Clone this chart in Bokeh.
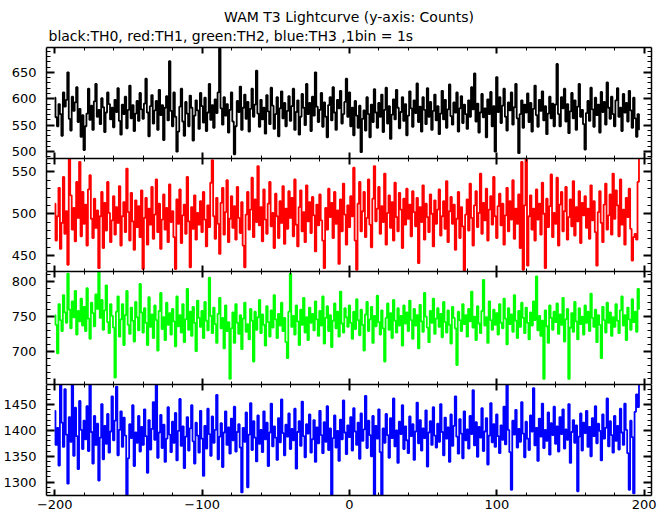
from bokeh.plotting import figure
from bokeh.layouts import column
from bokeh.models import Range1d, LinearAxis, FixedTicker, Title
from bokeh.embed import file_html
from bokeh.resources import INLINE

# ---------------- data (counts per 1 s bin) ----------------
bin_start_s = -200

th0_counts = [
    602, 565, 548, 590, 571, 530, 612, 585, 598, 650, 562, 540, 604, 577, 593, 622, 556, 581, 528, 569,
    503, 548, 572, 619, 560, 587, 541, 595, 628, 566, 579, 552, 601, 584, 537, 574, 612, 590, 561, 583,
    546, 598, 575, 620, 558, 532, 589, 571, 604, 544, 579, 625, 563, 588, 539, 572, 596, 558, 611, 580,
    562, 591, 638, 574, 529, 586, 607, 553, 578, 596, 541, 617, 569, 588, 522, 583, 605, 559, 671, 577,
    548, 612, 566, 500, 538, 585, 619, 557, 530, 594, 572, 548, 606, 583, 521, 568, 597, 578, 543, 611,
    586, 555, 602, 539, 574, 628, 560, 588, 545, 599, 573, 612, 695, 582, 551, 603, 568, 590, 536, 579,
    612, 557, 495, 548, 596, 575, 623, 541, 583, 608, 562, 594, 538, 581, 619, 566, 589, 653, 572, 547,
    598, 561, 583, 534, 607, 576, 552, 621, 587, 543, 571, 603, 529, 582, 614, 563, 592, 548, 577, 605,
    558, 586, 619, 541, 575, 597, 532, 566, 609, 583, 550, 628, 571, 592, 539, 604, 568, 650, 585, 556,
    579, 611, 547, 593, 566, 527, 588, 603, 559, 622, 574, 541, 598, 582, 615, 553, 571, 594, 638, 566,
    612, 548, 583, 531, 596, 568, 545, 587, 499, 562, 578, 540, 603, 571, 527, 589, 556, 618, 574, 545,
    592, 566, 608, 537, 579, 621, 553, 586, 524, 570, 599, 561, 617, 583, 544, 575, 603, 558, 590, 531,
    568, 614, 582, 547, 597, 573, 629, 556, 585, 538, 603, 579, 552, 620, 566, 594, 541, 577, 608, 559,
    586, 533, 572, 615, 561, 598, 545, 580, 627, 567, 551, 593, 574, 612, 538, 582, 605, 554, 589, 571,
    543, 597, 566, 622, 580, 648, 557, 591, 536, 574, 609, 565, 582, 527, 599, 571, 613, 548, 586, 500,
    641, 575, 603, 554, 587, 619, 566, 540, 593, 578, 612, 551, 584, 628, 563, 497, 571, 597, 545, 589,
    574, 610, 556, 592, 538, 581, 625, 569, 547, 598, 577, 614, 559, 586, 533, 572, 604, 563, 591, 548,
    589, 666, 571, 548, 603, 582, 619, 557, 590, 535, 576, 611, 563, 597, 541, 585, 628, 566, 579, 552,
    504, 573, 596, 558, 621, 580, 547, 602, 569, 589, 536, 613, 575, 594, 551, 631, 583, 562, 604, 571,
    548, 597, 620, 566, 583, 539, 609, 574, 592, 557, 615, 578, 545, 602, 563, 528, 571, 542,
]

th1_counts = [
    512, 468, 497, 531, 458, 489, 544, 476, 503, 439, 566, 522, 481, 507, 467, 538, 495, 562, 473, 526,
    488, 511, 462, 529, 546, 494, 471, 518, 483, 504, 435, 497, 526, 459, 513, 480, 538, 501, 466, 492,
    521, 475, 508, 489, 533, 462, 497, 514, 478, 554, 502, 468, 525, 491, 457, 516, 484, 509, 472, 528,
    434, 495, 519, 463, 506, 487, 532, 470, 499, 541, 478, 512, 458, 493, 523, 481, 507, 466, 535, 490,
    503, 472, 434, 517, 488, 529, 465, 498, 511, 476, 544, 491, 436, 508, 482, 522, 469, 501, 487, 515,
    478, 526, 493, 461, 510, 484, 537, 564, 497, 470, 519, 488, 452, 513, 531, 475, 502, 540, 466, 494,
    521, 483, 509, 469, 532, 495, 477, 514, 462, 436, 499, 526, 481, 505, 543, 472, 517, 490, 557, 486,
    508, 467, 529, 493, 476, 512, 538, 485, 501, 459, 524, 497, 471, 515, 489, 533, 464, 506, 482, 527,
    495, 519, 473, 541, 487, 461, 508, 528, 479, 502, 466, 534, 491, 514, 477, 520, 498, 455, 511, 486,
    523, 492, 468, 435, 507, 481, 530, 496, 513, 471, 526, 488, 504, 440, 517, 479, 536, 499, 463, 510,
    484, 521, 497, 555, 468, 433, 512, 538, 479, 503, 526, 472, 495, 541, 487, 460, 518, 557, 491, 506,
    532, 476, 509, 490, 548, 463, 501, 522, 483, 514, 468, 537, 496, 479, 525, 505, 459, 518, 487, 530,
    494, 511, 473, 527, 502, 485, 519, 441, 508, 490, 534, 469, 512, 496, 478, 523, 500, 461, 516, 488,
    505, 529, 474, 497, 515, 482, 539, 466, 503, 520, 488, 511, 457, 494, 526, 471, 508, 485, 432, 499,
    517, 480, 536, 495, 462, 510, 527, 484, 501, 548, 476, 513, 492, 530, 468, 505, 521, 487, 544, 497,
    471, 509, 524, 486, 512, 463, 498, 531, 479, 515, 493, 540, 470, 506, 488, 523, 459, 562, 433, 510,
    565, 438, 497, 522, 481, 506, 468, 529, 493, 512, 475, 537, 500, 435, 518, 484, 509, 547, 472, 501,
    488, 543, 462, 511, 526, 479, 503, 532, 469, 496, 517, 485, 539, 474, 508, 491, 527, 465, 513, 498,
    521, 483, 506, 470, 534, 492, 515, 478, 438, 502, 527, 489, 466, 511, 536, 481, 498, 523, 475, 548,
    494, 528, 510, 473, 541, 487, 505, 463, 519, 496, 530, 482, 444, 472, 476, 469, 538, 566,
]

th2_counts = [
    752, 738, 697, 768, 745, 729, 781, 756, 741, 812, 760, 733, 772, 749, 787, 724, 758, 743, 776, 737,
    764, 729, 791, 747, 718, 770, 755, 736, 782, 761, 815, 748, 774, 731, 759, 795, 742, 726, 768, 751,
    734, 662, 757, 779, 721, 746, 768, 709, 752, 787, 738, 725, 763, 744, 714, 771, 749, 730, 797, 756,
    727, 762, 741, 709, 778, 735, 753, 719, 766, 745, 701, 758, 784, 732, 749, 716, 770, 738, 755, 724,
    761, 743, 707, 779, 736, 752, 727, 768, 713, 746, 790, 731, 757, 722, 764, 741, 700, 773, 748, 735,
    758, 719, 771, 744, 730, 806, 751, 726, 763, 739, 712, 754, 777, 733, 748, 704, 766, 729, 742, 660,
    733, 756, 712, 768, 741, 725, 752, 703, 747, 770, 728, 739, 717, 761, 744, 685, 757, 731, 749, 774,
    726, 753, 738, 708, 765, 742, 721, 759, 734, 781, 746, 719, 754, 737, 770, 729, 748, 713, 690, 757,
    812, 735, 751, 724, 766, 743, 709, 760, 738, 777, 727, 749, 716, 763, 741, 754, 730, 772, 746, 722,
    758, 737, 779, 711, 748, 765, 729, 752, 706, 744, 769, 733, 757, 721, 786, 740, 727, 762, 749, 735,
    766, 741, 718, 757, 732, 775, 745, 723, 760, 738, 701, 753, 771, 729, 746, 764, 712, 751, 736, 780,
    742, 724, 759, 733, 685, 748, 769, 731, 755, 719, 774, 744, 727, 762, 737, 751, 708, 766, 740, 756,
    729, 773, 745, 718, 761, 737, 752, 704, 767, 743, 728, 784, 750, 734, 713, 758, 741, 776, 725, 747,
    762, 735, 754, 720, 771, 742, 727, 759, 738, 711, 764, 748, 733, 680, 757, 745, 729, 768, 739, 752,
    721, 761, 743, 786, 734, 750, 716, 765, 740, 726, 758, 803, 737, 749, 712, 772, 745, 731, 760, 738,
    755, 724, 768, 741, 733, 776, 747, 710, 762, 739, 753, 728, 781, 744, 719, 758, 735, 770, 748, 726,
    763, 741, 717, 756, 737, 772, 745, 808, 730, 751, 722, 744, 660, 759, 736, 712, 766, 748, 731, 757,
    742, 769, 725, 753, 738, 777, 714, 746, 761, 660, 734, 755, 728, 771, 743, 717, 762, 739, 750, 724,
    766, 741, 757, 729, 783, 748, 735, 760, 713, 752, 738, 690, 764, 745, 727, 770, 741, 756, 722, 749,
    735, 768, 744, 726, 759, 779, 737, 752, 716, 763, 746, 731, 775, 742, 757, 728, 790, 761,
]

th3_counts = [
    1438, 1372, 1405, 1332, 1489, 1415, 1368, 1480, 1392, 1297, 1426, 1378, 1489, 1351, 1444, 1389, 1325, 1457, 1401, 1364,
    1419, 1383, 1447, 1360, 1489, 1397, 1336, 1428, 1372, 1413, 1303, 1386, 1451, 1344, 1409, 1374, 1432, 1357, 1398, 1466,
    1381, 1419, 1485, 1352, 1401, 1437, 1368, 1425, 1390, 1275, 1346, 1412, 1385, 1449, 1331, 1396, 1376, 1428, 1359, 1407,
    1372, 1441, 1389, 1318, 1420, 1363, 1403, 1455, 1382, 1489, 1347, 1396, 1430, 1366, 1411, 1339, 1384, 1445, 1392, 1358,
    1417, 1376, 1434, 1342, 1399, 1461, 1370, 1408, 1327, 1388, 1426, 1361, 1404, 1449, 1379, 1336, 1415, 1390, 1357, 1438,
    1384, 1312, 1409, 1365, 1442, 1393, 1351, 1427, 1376, 1401, 1469, 1344, 1388, 1414, 1329, 1396, 1437, 1372, 1406, 1355,
    1423, 1381, 1446, 1359, 1397, 1412, 1367, 1280, 1405, 1378, 1435, 1290, 1392, 1453, 1362, 1418, 1386, 1340, 1429, 1374,
    1401, 1358, 1437, 1383, 1415, 1331, 1396, 1452, 1369, 1408, 1386, 1343, 1424, 1377, 1460, 1395, 1352, 1411, 1388, 1433,
    1364, 1403, 1381, 1442, 1326, 1397, 1418, 1370, 1456, 1389, 1348, 1412, 1394, 1431, 1357, 1383, 1420, 1339, 1406, 1375,
    1438, 1391, 1356, 1416, 1378, 1447, 1362, 1404, 1272, 1385, 1429, 1367, 1399, 1341, 1421, 1383, 1458, 1396, 1354, 1410,
    1387, 1426, 1361, 1443, 1398, 1372, 1415, 1345, 1433, 1380, 1402, 1467, 1366, 1419, 1391, 1350, 1428, 1272, 1409, 1384,
    1441, 1358, 1275, 1404, 1376, 1432, 1391, 1347, 1424, 1385, 1462, 1369, 1400, 1337, 1417, 1393, 1449, 1364, 1408, 1381,
    1356, 1427, 1389, 1412, 1343, 1398, 1454, 1375, 1420, 1361, 1404, 1385, 1439, 1330, 1396, 1418, 1372, 1445, 1390, 1367,
    1413, 1378, 1451, 1397, 1352, 1425, 1384, 1406, 1339, 1431, 1370, 1409, 1466, 1388, 1355, 1422, 1394, 1346, 1437, 1381,
    1402, 1365, 1428, 1393, 1478, 1371, 1416, 1349, 1407, 1386, 1443, 1360, 1398, 1424, 1334, 1390, 1453, 1377, 1412, 1368,
    1431, 1389, 1356, 1410, 1382, 1446, 1373, 1489, 1401, 1358, 1285, 1419, 1392, 1440, 1367, 1403, 1378, 1455, 1394, 1348,
    1417, 1384, 1362, 1429, 1398, 1482, 1371, 1405, 1341, 1423, 1388, 1452, 1366, 1401, 1380, 1435, 1353, 1414, 1391, 1446,
    1374, 1408, 1359, 1426, 1393, 1441, 1365, 1402, 1382, 1451, 1337, 1397, 1420, 1376, 1410, 1282, 1388, 1433, 1361, 1415,
    1395, 1438, 1368, 1407, 1350, 1424, 1389, 1447, 1375, 1413, 1399, 1342, 1431, 1384, 1405, 1462, 1369, 1418, 1391, 1357,
    1428, 1380, 1409, 1363, 1442, 1396, 1372, 1452, 1401, 1356, 1285, 1419, 1387, 1278, 1436, 1470, 1445, 1489,
]

series_counts = [th0_counts, th1_counts, th2_counts, th3_counts]
series_colors = ["#000000", "#ff0000", "#00ff00", "#0000ff"]

x_major_ticks = [-200, -100, 0, 100, 200]
x_tick_labels = ["\u2212200", "\u2212100", "0", "100", "200"]
x_minor_ticks = list(range(-200, 201, 20))

y_limits = [(487, 697), (431, 566), (652, 815), (1274, 1489)]
y_major_ticks = [
    [500, 550, 600, 650],
    [450, 500, 550],
    [700, 750, 800],
    [1300, 1350, 1400, 1450],
]
y_minor_ticks = [
    list(range(490, 700, 10)),
    list(range(440, 566, 10)),
    list(range(660, 815, 10)),
    list(range(1280, 1490, 10)),
]

title_text = "WAM T3 Lightcurve (y-axis: Counts)"
subtitle_text = "black:TH0, red:TH1, green:TH2, blue:TH3 ,1bin = 1s"

# ---------------- styling ----------------
FONT = "DejaVu Sans"
FRAME_W = 605
FRAME_H = [111, 113, 113, 111]
X_RANGE = (-205.6, 205.0)
BORDER_L, BORDER_R = 45, 18
BORDER_TOP, BORDER_BOTTOM = 47, 19


def style_axis(ax, tick_in, minor_in, show_labels):
    ax.major_tick_in = tick_in
    ax.major_tick_out = 0
    ax.minor_tick_in = minor_in
    ax.minor_tick_out = 0
    ax.axis_line_color = "black"
    ax.axis_line_width = 1.5
    ax.major_tick_line_color = "black"
    ax.major_tick_line_width = 2
    ax.minor_tick_line_color = "black"
    ax.minor_tick_line_width = 1
    if show_labels:
        ax.major_label_text_font = FONT
        ax.major_label_text_font_size = "13px"
        ax.major_label_text_color = "black"
    else:
        ax.major_label_text_font_size = "0px"
        ax.major_label_text_color = None
        ax.major_label_standoff = 0


figs = []
n = len(series_counts)
for i in range(n):
    counts = series_counts[i]
    times = [bin_start_s + k for k in range(len(counts))]
    p = figure(
        frame_width=FRAME_W,
        frame_height=FRAME_H[i],
        x_range=Range1d(*X_RANGE),
        y_range=Range1d(*y_limits[i]),
        x_axis_location=None,
        y_axis_location=None,
        output_backend="svg",
        toolbar_location=None,
        min_border_left=BORDER_L,
        min_border_right=BORDER_R,
        min_border_top=BORDER_TOP if i == 0 else 0,
        min_border_bottom=BORDER_BOTTOM if i == n - 1 else 0,
        background_fill_color="white",
        border_fill_color="white",
    )
    p.outline_line_color = None
    p.grid.visible = False

    # left (labelled) and right y axes
    yl = LinearAxis(ticker=FixedTicker(ticks=y_major_ticks[i], minor_ticks=y_minor_ticks[i]))
    style_axis(yl, 8, 4, True)
    yl.major_label_standoff = 10
    p.add_layout(yl, "left")
    yr = LinearAxis(ticker=FixedTicker(ticks=y_major_ticks[i], minor_ticks=y_minor_ticks[i]))
    style_axis(yr, 8, 4, False)
    p.add_layout(yr, "right")

    # top and bottom x axes
    xt = LinearAxis(ticker=FixedTicker(ticks=x_major_ticks, minor_ticks=x_minor_ticks))
    style_axis(xt, 6, 3, False)
    p.add_layout(xt, "above")
    xb = LinearAxis(ticker=FixedTicker(ticks=x_major_ticks, minor_ticks=x_minor_ticks))
    last = (i == n - 1)
    style_axis(xb, 6, 3, last)
    if last:
        xb.major_label_standoff = 4
        xb.major_label_overrides = {t: lab for t, lab in zip(x_major_ticks, x_tick_labels)}
    p.add_layout(xb, "below")

    p.step(times, counts, mode="center", line_color=series_colors[i], line_width=1.8)

    if i == 0:
        p.add_layout(Title(text=subtitle_text, align="left", text_font=FONT,
                           text_font_size="14px", text_font_style="normal",
                           text_color="black", standoff=8, offset=2), "above")
        p.add_layout(Title(text=title_text, align="center", text_font=FONT,
                           text_font_size="14px", text_font_style="normal",
                           text_color="black", standoff=-6), "above")
    figs.append(p)

layout = column(*figs, spacing=0)
open("out.html", "w").write(file_html(layout, INLINE))
